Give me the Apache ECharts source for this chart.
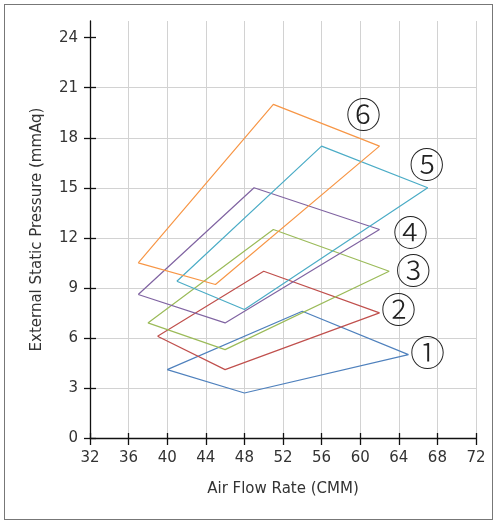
<!DOCTYPE html>
<html><head><meta charset="utf-8">
<script src="https://cdn.jsdelivr.net/npm/echarts@6/dist/echarts.min.js"></script>
<style>
html,body{margin:0;padding:0;background:#fff;}
#wrap{position:relative;width:496px;height:521px;}
#chart{position:absolute;left:0;top:0;width:496px;height:521px;}
#frame{position:absolute;left:4px;top:4px;width:487px;height:514px;border:1px solid #777;pointer-events:none;}
</style></head>
<body>
<div id="wrap"><div id="chart"></div><div id="frame"></div></div>
<script>
// Polygon vertices [airflow, pressure]: left, bottom, right, top (closed)
const s1 = [[40,4.1],[48,2.7],[65,5.0],[54,7.6],[40,4.1]];
const s2 = [[39,6.1],[46,4.1],[62,7.5],[50,10.0],[39,6.1]];
const s3 = [[38,6.9],[46,5.3],[63,10.0],[51,12.5],[38,6.9]];
const s4 = [[37,8.6],[46,6.9],[62,12.5],[49,15.0],[37,8.6]];
const s5 = [[41,9.4],[48,7.7],[67,15.0],[56,17.5],[41,9.4]];
const s6 = [[37,10.5],[45,9.2],[62,17.5],[51,20.0],[37,10.5]];
const seriesNames = ['①','②','③','④','⑤','⑥'];
const seriesData = [s1,s2,s3,s4,s5,s6];
const colors = ['#4f81bd','#c0504d','#9bbb59','#8064a2','#4bacc6','#f79646'];
const labelOffsets = [[19,-2],[19,-3],[24,0],[31,3],[-1,-23],[-16,-31]];
const xTicks = [32,36,40,44,48,52,56,60,64,68,72];
const yTicks = [0,3,6,9,12,15,18,21,24];

const font = 'DejaVu Sans, sans-serif';
const chart = echarts.init(document.getElementById('chart'));

const series = seriesData.map((d, i) => ({
  name: seriesNames[i],
  type: 'line',
  xAxisIndex: 0, yAxisIndex: 0,
  symbol: 'circle',
  symbolSize: 0,
  showSymbol: true,
  animation: false,
  itemStyle: {color: colors[i]},
  lineStyle: {color: colors[i], width: 1.2},
  data: d.map((p, j) => j === 2 ? {
    value: p,
    label: {
      show: true, formatter: seriesNames[i], position: 'inside',
      offset: labelOffsets[i], align: 'center', verticalAlign: 'middle',
      fontSize: 35, color: '#222', fontWeight: 300,
      fontFamily: 'Noto Sans CJK KR, Noto Sans CJK SC, sans-serif'
    }
  } : p)
}));

const commonX = {type:'value', min:32, max:72, position:'bottom'};
const commonY = {type:'value', min:0, max:25, position:'left'};

chart.setOption({
  animation: false,
  grid: {left: 90, right: 20, top: 21, bottom: 83},
  xAxis: [
    Object.assign({}, commonX, {
      name: 'Air Flow Rate (CMM)', nameLocation: 'middle', nameGap: 44,
      nameTextStyle: {fontSize: 15, color: '#333', fontFamily: font},
      axisLine: {lineStyle: {color: '#111', width: 1.3}},
      axisTick: {show: true, length: 7, customValues: xTicks, lineStyle: {color: '#111', width: 1.3}},
      axisLabel: {customValues: xTicks, fontSize: 15, color: '#333', margin: 13, fontFamily: font},
      splitLine: {show: true, lineStyle: {color: '#d2d2d2', width: 1}}
    }),
    Object.assign({}, commonX, {
      axisLine: {show: false},
      axisTick: {show: true, inside: true, length: 5, customValues: xTicks, lineStyle: {color: '#111', width: 1.3}},
      axisLabel: {show: false},
      splitLine: {show: false}
    })
  ],
  yAxis: [
    Object.assign({}, commonY, {
      name: 'External Static Pressure (mmAq)', nameLocation: 'middle', nameGap: 45,
      nameTextStyle: {fontSize: 15, color: '#333', fontFamily: font},
      axisLine: {show: true, lineStyle: {color: '#111', width: 1.3}},
      axisTick: {show: true, length: 6, customValues: yTicks, lineStyle: {color: '#111', width: 1.3}},
      axisLabel: {customValues: yTicks, fontSize: 15, color: '#333', margin: 12, fontFamily: font},
      splitLine: {show: true, showMaxLine: false, lineStyle: {color: '#d2d2d2', width: 1}}
    }),
    Object.assign({}, commonY, {
      axisLine: {show: false},
      axisTick: {show: true, inside: true, length: 6, customValues: yTicks, lineStyle: {color: '#111', width: 1.3}},
      axisLabel: {show: false},
      splitLine: {show: false}
    })
  ],
  series: series
});
</script>
</body></html>
